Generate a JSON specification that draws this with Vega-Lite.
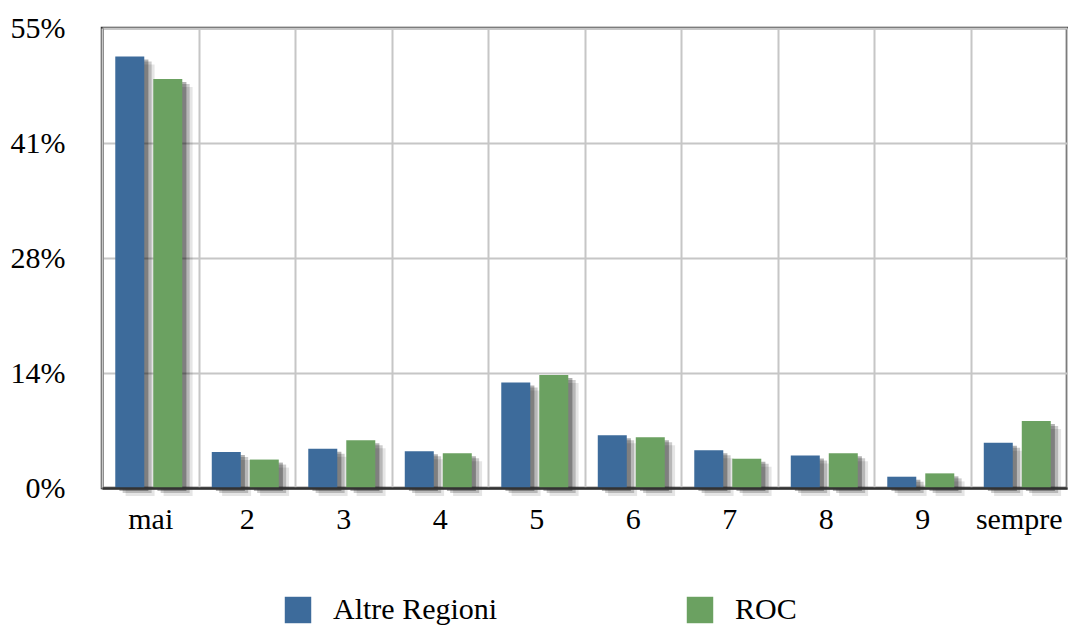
{
  "$schema": "https://vega.github.io/schema/vega-lite/v6.json",
  "width": 965,
  "height": 460,
  "autosize": {"type": "none"},
  "padding": {"left": 102, "top": 28, "right": 1, "bottom": 137},
  "background": "white",
  "config": {
    "font": "Liberation Serif",
    "view": {"stroke": "#333333", "strokeWidth": 2.5},
    "axis": {"labelFont": "Liberation Serif", "labelFontSize": 30, "labelColor": "#000000"}
  },
  "data": {
    "values": [
      {"categoria": "mai", "serie": "Altre Regioni", "valore": 51.6},
      {"categoria": "mai", "serie": "ROC", "valore": 48.9},
      {"categoria": "2", "serie": "Altre Regioni", "valore": 4.3},
      {"categoria": "2", "serie": "ROC", "valore": 3.4},
      {"categoria": "3", "serie": "Altre Regioni", "valore": 4.7},
      {"categoria": "3", "serie": "ROC", "valore": 5.7},
      {"categoria": "4", "serie": "Altre Regioni", "valore": 4.4},
      {"categoria": "4", "serie": "ROC", "valore": 4.15},
      {"categoria": "5", "serie": "Altre Regioni", "valore": 12.6},
      {"categoria": "5", "serie": "ROC", "valore": 13.5},
      {"categoria": "6", "serie": "Altre Regioni", "valore": 6.3},
      {"categoria": "6", "serie": "ROC", "valore": 6.06},
      {"categoria": "7", "serie": "Altre Regioni", "valore": 4.5},
      {"categoria": "7", "serie": "ROC", "valore": 3.5},
      {"categoria": "8", "serie": "Altre Regioni", "valore": 3.9},
      {"categoria": "8", "serie": "ROC", "valore": 4.15},
      {"categoria": "9", "serie": "Altre Regioni", "valore": 1.35},
      {"categoria": "9", "serie": "ROC", "valore": 1.75},
      {"categoria": "sempre", "serie": "Altre Regioni", "valore": 5.4},
      {"categoria": "sempre", "serie": "ROC", "valore": 8.0}
    ]
  },
  "encoding": {
    "x": {
      "field": "categoria",
      "type": "nominal",
      "sort": ["mai", "2", "3", "4", "5", "6", "7", "8", "9", "sempre"],
      "scale": {"paddingInner": 0, "paddingOuter": 0},
      "axis": {
        "title": null,
        "labelAngle": 0,
        "ticks": false,
        "tickBand": "extent",
        "grid": true,
        "gridColor": "#c6c6c6",
        "gridWidth": 2,
        "domainColor": "#333333",
        "domainWidth": 2.5,
        "labelPadding": 16,
        "zindex": 1
      }
    },
    "y": {
      "field": "valore",
      "type": "quantitative",
      "scale": {"domain": [0, 55], "nice": false},
      "axis": {
        "title": null,
        "values": [0, 13.75, 27.5, 41.25, 55],
        "labelExpr": "format(datum.value, '.0f') + '%'",
        "ticks": false,
        "grid": true,
        "gridColor": "#c6c6c6",
        "gridWidth": 2,
        "domainColor": "#333333",
        "domainWidth": 2.5,
        "labelPadding": 37
      }
    }
  },
  "resolve": {"scale": {"xOffset": "independent"}},
  "layer": [
    {
      "mark": {"type": "bar", "color": "#000000", "opacity": 0.1, "yOffset": 8, "y2Offset": 14},
      "encoding": {
        "xOffset": {
          "field": "serie",
          "type": "nominal",
          "sort": ["Altre Regioni", "ROC"],
          "scale": {"paddingInner": 0.237, "paddingOuter": 0.388, "align": 0.8}
        }
      }
    },
    {
      "mark": {"type": "bar", "color": "#000000", "opacity": 0.2, "yOffset": 5, "y2Offset": 10},
      "encoding": {
        "xOffset": {
          "field": "serie",
          "type": "nominal",
          "sort": ["Altre Regioni", "ROC"],
          "scale": {"paddingInner": 0.237, "paddingOuter": 0.388, "align": 0.7}
        }
      }
    },
    {
      "mark": {"type": "bar", "color": "#000000", "opacity": 0.3, "yOffset": 3, "y2Offset": 6},
      "encoding": {
        "xOffset": {
          "field": "serie",
          "type": "nominal",
          "sort": ["Altre Regioni", "ROC"],
          "scale": {"paddingInner": 0.237, "paddingOuter": 0.388, "align": 0.59}
        }
      }
    },
    {
      "mark": {"type": "bar"},
      "encoding": {
        "xOffset": {
          "field": "serie",
          "type": "nominal",
          "sort": ["Altre Regioni", "ROC"],
          "scale": {"paddingInner": 0.237, "paddingOuter": 0.388, "align": 0.45}
        },
        "color": {
          "field": "serie",
          "type": "nominal",
          "sort": ["Altre Regioni", "ROC"],
          "scale": {"domain": ["Altre Regioni", "ROC"], "range": ["#3d6b9b", "#6ba161"]},
          "legend": {
            "title": null,
            "orient": "none",
            "legendX": 181,
            "legendY": 567,
            "direction": "horizontal",
            "symbolType": "square",
            "symbolSize": 700,
            "symbolStrokeWidth": 0,
            "symbolOpacity": 1,
            "labelFontSize": 30,
            "labelFont": "Liberation Serif",
            "labelColor": "#000000",
            "labelOffset": 20,
            "columnPadding": 187,
            "labelLimit": 400
          }
        }
      }
    }
  ]
}
